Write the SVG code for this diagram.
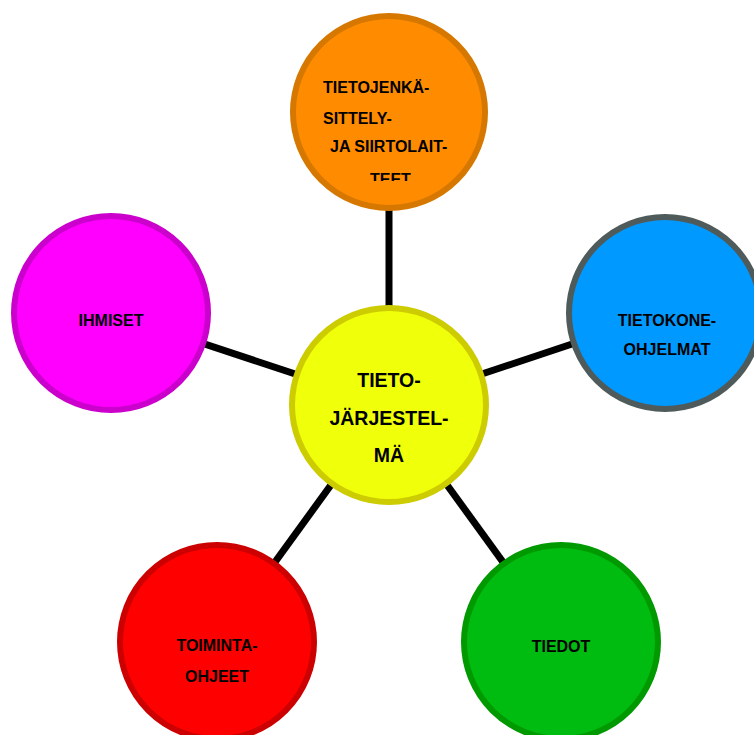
<svg xmlns="http://www.w3.org/2000/svg" width="754" height="735" viewBox="0 0 754 735">
<style>
  .c { stroke-width: 6; }
  .t { font-family: "Liberation Sans", Arial, sans-serif; font-weight: bold; fill: #000; }
  .s { font-size: 16px; }
  .big { font-size: 19.5px; }
  .mid { text-anchor: middle; }
  .ln { stroke: #000; stroke-width: 7; fill: none; }
</style>
<defs>
  <clipPath id="orangeClip"><rect x="290" y="14" width="200" height="167"/></clipPath>
</defs>
<rect width="754" height="735" fill="#fff"/>
<g id="connectors">
  <line class="ln" x1="389" y1="405" x2="389" y2="112"/>
  <line class="ln" x1="389" y1="405" x2="111" y2="313"/>
  <line class="ln" x1="389" y1="405" x2="665" y2="313"/>
  <line class="ln" x1="389" y1="405" x2="217" y2="642"/>
  <line class="ln" x1="389" y1="405" x2="561" y2="642"/>
</g>
<g id="node-tietojenkasittely">
  <circle class="c" cx="389" cy="112" r="96" fill="#ff8c00" stroke="#d67800"/>
  <g clip-path="url(#orangeClip)">
    <text class="t s" x="323" y="93">TIETOJENKÄ-</text>
    <text class="t s" x="323" y="124">SITTELY-</text>
    <text class="t s" x="330" y="152">JA SIIRTOLAIT-</text>
    <text class="t s" x="370" y="185">TEET</text>
  </g>
</g>
<g id="node-tietokoneohjelmat">
  <circle class="c" cx="665" cy="313" r="96" fill="#0099ff" stroke="#4f5b5b"/>
  <text class="t s mid" x="667" y="326">TIETOKONE-</text>
  <text class="t s mid" x="667" y="355">OHJELMAT</text>
</g>
<g id="node-ihmiset">
  <circle class="c" cx="111" cy="313" r="97" fill="#ff00ff" stroke="#cc00cc"/>
  <text class="t s mid" x="111" y="326">IHMISET</text>
</g>
<g id="node-toimintaohjeet">
  <circle class="c" cx="217" cy="642" r="97" fill="#ff0000" stroke="#cc0000"/>
  <text class="t s mid" x="217" y="651">TOIMINTA-</text>
  <text class="t s mid" x="217" y="682">OHJEET</text>
</g>
<g id="node-tiedot">
  <circle class="c" cx="561" cy="642" r="97" fill="#00bb10" stroke="#009900"/>
  <text class="t s mid" x="561" y="652">TIEDOT</text>
</g>
<g id="node-tietojarjestelma">
  <circle class="c" cx="389" cy="405" r="97" fill="#f0ff0a" stroke="#cccc00"/>
  <text class="t big mid" x="389" y="387">TIETO-</text>
  <text class="t big mid" x="389" y="425">JÄRJESTEL-</text>
  <text class="t big mid" x="389" y="462">MÄ</text>
</g>
</svg>
